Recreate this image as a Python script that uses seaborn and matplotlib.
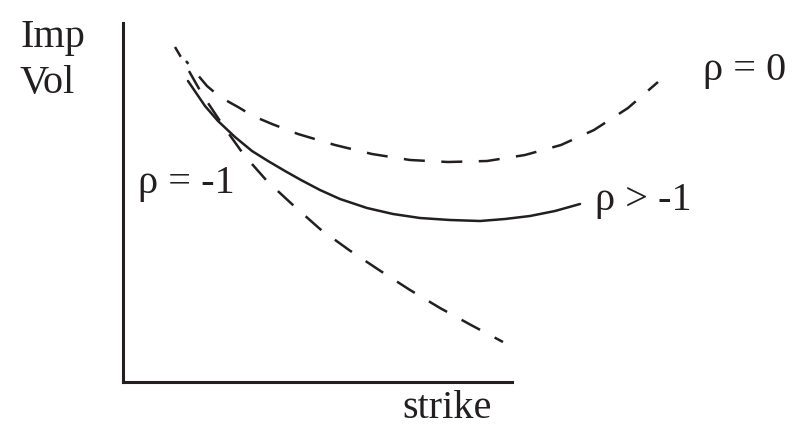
import matplotlib
matplotlib.use("Agg")
import matplotlib.pyplot as plt
import seaborn as sns

# Implied-volatility smile sketch: strike on x, implied vol on y (arbitrary units)
rho0_strike = [63, 84, 97, 115, 130, 149, 175, 212, 249, 287, 325, 364, 402, 438, 471, 505, 535]
rho0_vol = [321, 296, 285, 275, 266, 258, 248, 237, 228, 222, 220, 221, 227, 237, 252, 274, 300]

rho_gt_strike = [65, 82, 95, 112, 129, 145, 162, 178, 197, 217, 244, 270, 297, 327, 357, 382, 407, 432, 457]
rho_gt_vol = [301, 276, 261, 245, 231, 221, 211, 202, 192, 183, 174, 168, 164, 162, 161, 163, 166, 171, 178]

rho_m1_strike = [52, 62, 79, 101, 121, 144, 171, 197, 226, 256, 287, 317, 348, 380]
rho_m1_vol = [335, 318, 288, 255, 227, 201, 176, 153, 132, 112, 92, 74, 57, 40]

labels = {
    "rho0": "ρ = 0",
    "rho_gt": "ρ > -1",
    "rho_m1": "ρ = -1",
}

INK = "#231f20"

sns.set_theme(style="white")
plt.rcParams["font.family"] = ["Liberation Serif", "DejaVu Serif"]

W, H = 796, 427
fig = plt.figure(figsize=(W / 100, H / 100), dpi=100)
x0, y0 = 123, 383
ax = fig.add_axes([x0 / W, (H - y0) / H, 1 - x0 / W, y0 / H])
ax.set_xlim(0, W - x0)
ax.set_ylim(0, y0)

lw = 1.8
on, off = 8.4, 6.6

# dashed curves are traced from their right-hand end so each finishes with a short dash
sns.lineplot(x=rho0_strike[::-1], y=rho0_vol[::-1], ax=ax, color=INK, lw=lw,
             linestyle=(3.2, (on, off)), sort=False, estimator=None)
sns.lineplot(x=rho_gt_strike, y=rho_gt_vol, ax=ax, color=INK, lw=lw,
             sort=False, estimator=None)
sns.lineplot(x=rho_m1_strike[::-1], y=rho_m1_vol[::-1], ax=ax, color=INK, lw=lw,
             linestyle=(4.6, (on, off)), sort=False, estimator=None)

# L-shaped axes
for side in ("top", "right"):
    ax.spines[side].set_visible(False)
for side in ("left", "bottom"):
    ax.spines[side].set_color(INK)
    ax.spines[side].set_linewidth(2.2)
ax.spines["left"].set_bounds(0, 359)
ax.spines["bottom"].set_bounds(0, 389)
ax.set_xticks([])
ax.set_yticks([])
ax.set_xlabel("")
ax.set_ylabel("")
ax.patch.set_alpha(0)

fs = 29
# axis captions
fig.text(20 / W, 1 - 47 / H, "Imp", fontsize=fs, color=INK, ha="left", va="baseline")
fig.text(20 / W, 1 - 93 / H, "Vol", fontsize=fs, color=INK, ha="left", va="baseline")
fig.text(402 / W, 1 - 418 / H, "strike", fontsize=fs, color=INK, ha="left", va="baseline")

# curve labels
fig.text(703 / W, 1 - 80 / H, labels["rho0"], fontsize=fs, color=INK, ha="left", va="baseline")
fig.text(595 / W, 1 - 210 / H, labels["rho_gt"], fontsize=fs, color=INK, ha="left", va="baseline")
fig.text(138 / W, 1 - 193 / H, labels["rho_m1"], fontsize=fs, color=INK, ha="left", va="baseline")

fig.savefig("out.png", dpi=100, facecolor="white")
